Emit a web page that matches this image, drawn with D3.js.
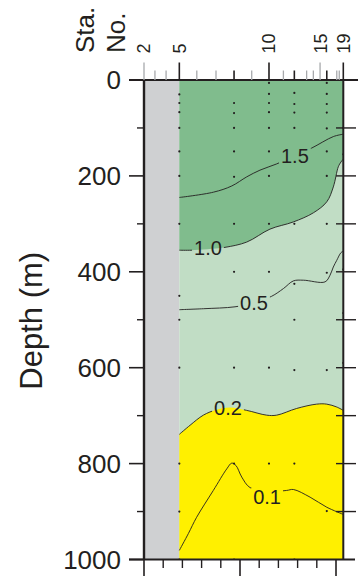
<!DOCTYPE html>
<html><head><meta charset="utf-8">
<script src="https://cdn.jsdelivr.net/npm/d3@7"></script>
<style>html,body{margin:0;padding:0;background:#fff;} svg{display:block;font-family:"Liberation Sans",Arial,Helvetica,sans-serif;}</style>
</head><body><svg id="c" width="364" height="577"></svg>
<script>
// ---- data ----
const stationNos = [2,3,4,5,6,7,8,9,10,11,12,13,14,15,16,17,18,19];
const stationKm  = [0,5.7,11.5,18.4,27.5,37.5,46.9,56.1,65.1,72.6,78.3,84.7,88.2,91.7,95.2,100.4,101.7,103.8];
const labeledStations = [2,5,10,15,19];
const sampledStations = [5,8,10,12,16,19];
const sampleDepths = [
  [30,48,67,100,149,200,300,450,500,600,800,900,1000],
  [48,69,100,149,202,300,400,600,800,1000],
  [6,29,48,67,100,149,200,300,400,600,800],
  [27,50,68,100,300,425,500,605,800,1000],
  [6,29,50,68,101,149,200,300,402,605,899],
  [100,155,395,486,590]
];
const depthMajorTicks = [0,200,400,600,800,1000];
const depthMinorTicks = [100,300,500,700,900];
const kmMajorTicks = [0,50,100];
const kmMinorTicks = [10,20,30,40,60,70,80,90];
const landEdgeKm = 18.4;
const contour15 = [[18.4,245],[36.1,234],[45.7,221],[53.5,202],[60.4,188],[69.1,175],[78.5,158],[87.3,142],[98.6,118],[103.8,113]];
const contour10 = [[18.4,355],[24.5,355],[33,353],[42.2,349],[53.5,338],[65.6,311],[77.8,296],[88.2,277],[95.2,254],[98.6,223],[101.2,181],[102.6,171],[103.8,165]];
const contour05 = [[18.4,479],[30.9,477],[47.4,473],[57,465],[66.5,451],[72.6,435],[77.8,419],[83,417.5],[94.3,421],[96.9,407],[98.6,390],[100.4,376],[102.6,360],[103.8,357]];
const contour02 = [[18.4,739],[24,720],[30.9,699],[37.9,687.5],[44.8,683],[53.5,689],[63.9,699],[69.1,699],[79.5,685],[89.9,676],[95.2,676],[100.4,682],[103.8,689]];
const contour01 = [[18.4,981],[23.1,946],[27.4,912],[36.1,856],[43.1,811],[45.7,799],[47.9,804],[50.9,828],[55.2,850],[64.7,858],[74.3,856],[77.8,854],[86.5,870],[95.2,891],[103.8,906]];
const contourLabels = ["1.5","1.0","0.5","0.2","0.1"];
const contourLabelKm = [78.6,33.3,57.3,43.75,64.1];
const contourLabelDepth = [157.6,350.7,465.6,682.7,868.5];

// ---- scales ----
const x = d3.scaleLinear().domain([0,103.8]).range([144,343.3]);
const y = d3.scaleLinear().domain([0,1000]).range([80,559.5]);
const svg = d3.select("#c");
const ink = "#231f20";
const C = {grey:"#cfd0d2", dark:"#80bc8d", light:"#c1ddc5", yellow:"#fff000"};

const defs = svg.append("defs");
defs.append("clipPath").attr("id","plotclip").append("rect")
  .attr("x",x(0)).attr("y",y(0)).attr("width",x(103.8)-x(0)).attr("height",y(1000)-y(0));

const plot = svg.append("g").attr("clip-path","url(#plotclip)");
plot.append("rect").attr("x",x(0)).attr("y",y(0)).attr("width",x(landEdgeKm)-x(0)).attr("height",y(1000)-y(0)).attr("fill",C.grey);
plot.append("rect").attr("x",x(landEdgeKm)).attr("y",y(0)).attr("width",x(103.8)-x(landEdgeKm)).attr("height",y(1000)-y(0)).attr("fill",C.light);

const curve = d3.curveCatmullRom.alpha(0.5);
plot.append("path").datum(contour10)
  .attr("d", d3.area().x(d=>x(d[0])).y0(y(0)).y1(d=>y(d[1])).curve(curve))
  .attr("fill",C.dark);
plot.append("path").datum(contour02)
  .attr("d", d3.area().x(d=>x(d[0])).y0(y(1000)).y1(d=>y(d[1])).curve(curve))
  .attr("fill",C.yellow);

// labels
const lblG = svg.append("g");
const lbls = lblG.selectAll("text").data(contourLabels).join("text")
  .attr("x",(d,i)=>x(contourLabelKm[i])).attr("y",(d,i)=>y(contourLabelDepth[i]))
  .attr("dy","0.36em").attr("text-anchor","middle")
  .attr("font-size",20).attr("fill",ink).text(d=>d);

// mask for contour lines
const mask = defs.append("mask").attr("id","lblmask").attr("maskUnits","userSpaceOnUse")
  .attr("x",0).attr("y",0).attr("width",364).attr("height",577);
mask.append("rect").attr("x",0).attr("y",0).attr("width",364).attr("height",577).attr("fill","#fff");
lbls.each(function(){
  const b = this.getBBox();
  mask.append("rect").attr("x",b.x-2).attr("y",b.y+2).attr("width",b.width+4).attr("height",b.height-4).attr("fill","#000");
});

const lineG = plot.append("g").attr("mask","url(#lblmask)");
const line = d3.line().x(d=>x(d[0])).y(d=>y(d[1])).curve(curve);
[contour15,contour10,contour05,contour02,contour01].forEach(c=>{
  lineG.append("path").datum(c).attr("d",line).attr("fill","none").attr("stroke",ink).attr("stroke-width",0.9);
});

// sample dots
sampledStations.forEach((s,i)=>{
  const km = stationKm[stationNos.indexOf(s)];
  plot.append("g").selectAll("circle").data(sampleDepths[i]).join("circle")
    .attr("cx",x(km)).attr("cy",d=>y(d)).attr("r",1.1).attr("fill",ink);
});
lblG.raise();

// ---- frame & axes ----
const ax = svg.append("g").attr("stroke",ink).attr("fill","none");
// top line, bottom line
ax.append("line").attr("x1",129).attr("x2",358).attr("y1",y(0)).attr("y2",y(0)).attr("stroke-width",2);
ax.append("line").attr("x1",129).attr("x2",355).attr("y1",y(1000)).attr("y2",y(1000)).attr("stroke-width",2);
// left & right border
ax.append("line").attr("x1",x(0)).attr("x2",x(0)).attr("y1",y(0)).attr("y2",y(1000)).attr("stroke-width",2.4);
ax.append("line").attr("x1",x(103.8)).attr("x2",x(103.8)).attr("y1",y(0)).attr("y2",y(1000)).attr("stroke-width",2);
// left depth ticks
ax.selectAll(".dmaj").data(depthMajorTicks).join("line").attr("class","dmaj")
  .attr("x1",129).attr("x2",x(0)).attr("y1",d=>y(d)).attr("y2",d=>y(d)).attr("stroke-width",1.6);
ax.selectAll(".dmin").data(depthMinorTicks).join("line").attr("class","dmin")
  .attr("x1",137).attr("x2",x(0)).attr("y1",d=>y(d)).attr("y2",d=>y(d)).attr("stroke-width",1.4);
// right ticks
ax.selectAll(".rt").data(depthMajorTicks.concat(depthMinorTicks).filter(d=>d>0&&d<1000)).join("line").attr("class","rt")
  .attr("x1",336).attr("x2",356).attr("y1",d=>y(d)).attr("y2",d=>y(d)).attr("stroke-width",1.4);
// bottom km ticks
ax.selectAll(".kmaj").data(kmMajorTicks).join("line").attr("class","kmaj")
  .attr("x1",d=>x(d)).attr("x2",d=>x(d)).attr("y1",y(1000)).attr("y2",576).attr("stroke-width",1.6);
ax.selectAll(".kmin").data(kmMinorTicks).join("line").attr("class","kmin")
  .attr("x1",d=>x(d)).attr("x2",d=>x(d)).attr("y1",y(1000)).attr("y2",568).attr("stroke-width",1.4);
// station ticks
stationNos.forEach((s,i)=>{
  const tall = labeledStations.includes(s);
  const samp = sampledStations.includes(s);
  ax.append("line").attr("x1",x(stationKm[i])).attr("x2",x(stationKm[i]))
    .attr("y1",tall?62.5:70.5).attr("y2",y(0))
    .attr("stroke",samp?ink:"#a7a9ac").attr("stroke-width",samp?1.6:1.3);
});

// depth tick labels
svg.append("g").selectAll("text").data(depthMajorTicks).join("text")
  .attr("x",121).attr("y",d=>y(d)).attr("dy","0.36em").attr("text-anchor","end")
  .attr("font-size",26).attr("fill",ink).text(d=>d);
// station labels
svg.append("g").selectAll("text").data(labeledStations).join("text")
  .attr("transform",d=>`translate(${x(stationKm[stationNos.indexOf(d)])},53.5) rotate(-90)`)
  .attr("dy","0.36em").attr("font-size",18).attr("fill",ink).text(d=>d);
// titles
svg.append("text").attr("transform","translate(94,53) rotate(-90)").attr("font-size",26).attr("fill",ink).text("Sta.");
svg.append("text").attr("transform","translate(125,53) rotate(-90)").attr("font-size",26).attr("fill",ink).text("No.");
svg.append("text").attr("transform",`translate(42,${(y(0)+y(1000))/2+1}) rotate(-90)`).attr("text-anchor","middle")
  .attr("font-size",31).attr("fill",ink).text("Depth (m)");
</script></body></html>
